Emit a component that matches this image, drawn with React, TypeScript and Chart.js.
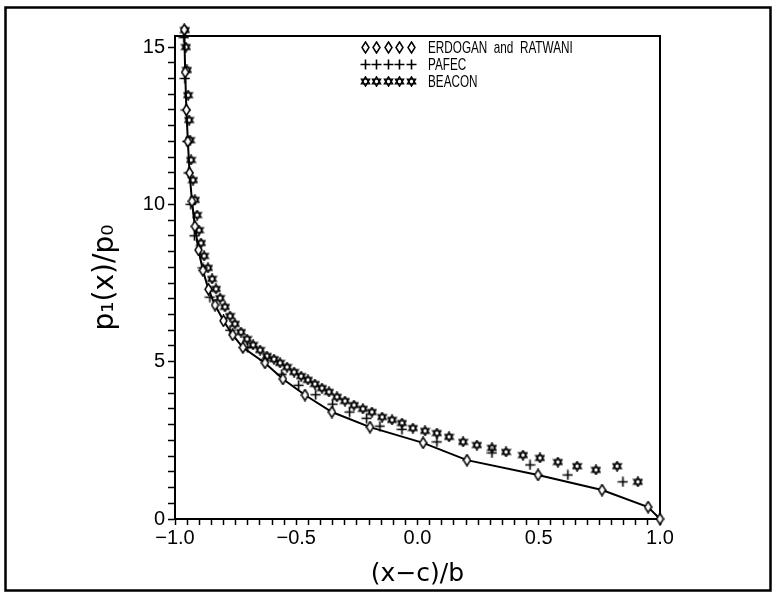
import React, { useEffect, useRef } from "react";
import { Chart, registerables } from "chart.js";

Chart.register(...registerables);

// ---- Data ----
const erdoganX = [-0.962, -0.958, -0.953, -0.947, -0.94, -0.93, -0.918, -0.903, -0.885, -0.862, -0.835, -0.80, -0.762, -0.72, -0.629, -0.555, -0.464, -0.353, -0.196, 0.023, 0.204, 0.497, 0.761, 0.951, 1.0];
const erdoganY = [15.55, 14.2, 13.0, 12.0, 11.0, 10.1, 9.3, 8.55, 7.9, 7.3, 6.8, 6.3, 5.85, 5.45, 4.96, 4.45, 3.94, 3.40, 2.92, 2.42, 1.87, 1.40, 0.92, 0.38, 0.0];

const pafecX = [-0.963, -0.959, -0.955, -0.95, -0.944, -0.935, -0.92, -0.885, -0.856, -0.773, -0.70, -0.63, -0.56, -0.49, -0.42, -0.35, -0.28, -0.21, -0.155, -0.064, 0.08, 0.307, 0.464, 0.62, 0.847];
const pafecY = [15.3, 14.0, 13.0, 12.0, 11.0, 10.0, 9.0, 7.98, 7.05, 6.0, 5.45, 5.05, 4.6, 4.25, 3.95, 3.65, 3.4, 3.2, 2.95, 2.85, 2.45, 2.1, 1.72, 1.40, 1.18];

const beaconX = [-0.959, -0.955, -0.951, -0.946, -0.942, -0.938, -0.934, -0.926, -0.918, -0.909, -0.901, -0.893, -0.88, -0.864, -0.847, -0.831, -0.814, -0.794, -0.773, -0.753, -0.728, -0.703, -0.678, -0.649, -0.621, -0.592, -0.567, -0.538, -0.509, -0.48, -0.452, -0.423, -0.394, -0.365, -0.332, -0.299, -0.262, -0.225, -0.188, -0.146, -0.105, -0.064, -0.019, 0.031, 0.08, 0.13, 0.188, 0.245, 0.307, 0.365, 0.435, 0.505, 0.579, 0.658, 0.736, 0.823, 0.909];
const beaconY = [15.54, 15.0, 14.27, 13.47, 12.68, 12.04, 11.41, 10.77, 10.14, 9.66, 9.18, 8.77, 8.36, 7.98, 7.63, 7.31, 7.02, 6.74, 6.45, 6.2, 5.94, 5.72, 5.53, 5.37, 5.18, 5.08, 4.96, 4.83, 4.67, 4.54, 4.42, 4.29, 4.16, 4.04, 3.88, 3.75, 3.62, 3.5, 3.4, 3.24, 3.15, 3.05, 2.89, 2.8, 2.73, 2.61, 2.45, 2.35, 2.26, 2.13, 2.03, 1.94, 1.81, 1.68, 1.56, 1.68, 1.18];

const xLabelValues = [-1, -0.5, 0, 0.5, 1];
const xTickLabels = ["\u22121.0", "\u22120.5", "0.0", "0.5", "1.0"];
const yLabelValues = [0, 5, 10, 15];
const yTickLabels = ["0", "5", "10", "15"];
const seriesNames = ["ERDOGAN  and  RATWANI", "PAFEC", "BEACON"];
const xTitle = "(x\u2212c)/b";
const yTitle = "p\u2081(x)/p\u2080";

const X_MIN = -1, X_MAX = 1, X_MINOR = 0.05;
const Y_MIN = 0, Y_MAX = 15.35, Y_MINOR = 0.5;

function minorTicks(min: number, max: number, step: number) {
  const out: number[] = [];
  const n = Math.round((max - min) / step);
  for (let i = 0; i <= n; i++) out.push(+(min + i * step).toFixed(6));
  return out;
}

function labelFor(v: number, vals: number[], labels: string[]) {
  const i = vals.findIndex((a) => Math.abs(a - v) < 1e-6);
  return i >= 0 ? labels[i] : "";
}

function makeDiamond() {
  const c = document.createElement("canvas");
  c.width = 9; c.height = 13;
  const g = c.getContext("2d")!;
  g.beginPath();
  g.moveTo(4.5, 1); g.lineTo(8, 6.5); g.lineTo(4.5, 12); g.lineTo(1, 6.5); g.closePath();
  g.fillStyle = "#fff"; g.fill();
  g.lineWidth = 1.5; g.strokeStyle = "#000"; g.stroke();
  return c;
}

function makeStar() {
  const c = document.createElement("canvas");
  c.width = 11; c.height = 11;
  const g = c.getContext("2d")!;
  const cx = 5.5, cy = 5.5, r = 4.7;
  g.lineWidth = 1.4; g.strokeStyle = "#000";
  for (let t = 0; t < 2; t++) {
    g.beginPath();
    for (let k = 0; k < 3; k++) {
      const a = -Math.PI / 2 + t * Math.PI + (k * 2 * Math.PI) / 3;
      const px = cx + r * Math.cos(a), py = cy + r * Math.sin(a);
      if (k === 0) g.moveTo(px, py); else g.lineTo(px, py);
    }
    g.closePath();
    g.stroke();
  }
  return c;
}

function makeCross() {
  const c = document.createElement("canvas");
  c.width = 11; c.height = 11;
  const g = c.getContext("2d")!;
  g.lineWidth = 1.6; g.strokeStyle = "#000";
  g.beginPath();
  g.moveTo(0.5, 5.5); g.lineTo(10.5, 5.5);
  g.moveTo(5.5, 0.5); g.lineTo(5.5, 10.5);
  g.stroke();
  return c;
}

const FONT = '"Liberation Sans", Arial, Helvetica, sans-serif';
const TITLE_FONT = '"DejaVu Sans", "Liberation Sans", sans-serif';

export default function App() {
  const ref = useRef<HTMLCanvasElement | null>(null);

  useEffect(() => {
    if (!ref.current) return;
    const diamond = makeDiamond();
    const star = makeStar();
    const cross = makeCross();
    const markers = [diamond, cross, star];

    const framePlugin = {
      id: "outerFrame",
      beforeDraw(chart: any) {
        const ctx = chart.ctx;
        ctx.save();
        ctx.fillStyle = "#fff";
        ctx.fillRect(0, 0, chart.width, chart.height);
        ctx.strokeStyle = "#000";
        ctx.lineWidth = 2.5;
        ctx.strokeRect(5.5, 7.5, 765, 583);
        ctx.restore();
      },
    };

    const legendPlugin = {
      id: "refLegend",
      afterDatasetsDraw(chart: any) {
        const ctx = chart.ctx;
        const a = chart.chartArea;
        const x0 = a.left + 190;
        const rows = [a.top + 11, a.top + 28, a.top + 45];
        ctx.save();
        rows.forEach((ry, r) => {
          const img = markers[r];
          for (let k = 0; k < 5; k++) {
            const cx = x0 + k * 11.5;
            ctx.drawImage(img, Math.round(cx - img.width / 2), Math.round(ry - img.height / 2));
          }
          ctx.fillStyle = "#000";
          ctx.font = "17px " + FONT;
          ctx.textBaseline = "middle";
          ctx.textAlign = "left";
          const tx = x0 + 63;
          ctx.save();
          ctx.translate(tx, ry + 1);
          ctx.scale(0.69, 1);
          ctx.fillText(seriesNames[r], 0, 0);
          ctx.restore();
        });
        ctx.restore();
      },
    };

    const xTicks = minorTicks(X_MIN, X_MAX, X_MINOR);
    const yTicks = minorTicks(Y_MIN, 15, Y_MINOR);

    const chart = new Chart(ref.current, {
      type: "scatter",
      data: {
        datasets: [
          {
            label: seriesNames[0],
            data: erdoganX.map((x, i) => ({ x, y: erdoganY[i] })),
            showLine: true,
            borderColor: "#000",
            borderWidth: 2,
            tension: 0,
            pointStyle: diamond,
            pointRadius: 5,
            clip: false,
          } as any,
          {
            label: seriesNames[1],
            data: pafecX.map((x, i) => ({ x, y: pafecY[i] })),
            showLine: false,
            pointStyle: cross,
            pointRadius: 5,
            clip: false,
          } as any,
          {
            label: seriesNames[2],
            data: beaconX.map((x, i) => ({ x, y: beaconY[i] })),
            showLine: false,
            pointStyle: star,
            pointRadius: 5,
            clip: false,
          } as any,
        ],
      },
      options: {
        responsive: false,
        animation: false,
        devicePixelRatio: 1,
        layout: { padding: 0 },
        plugins: { legend: { display: false }, tooltip: { enabled: false } },
        scales: {
          x: {
            type: "linear",
            position: "bottom",
            min: X_MIN,
            max: X_MAX,
            afterFit: (s: any) => { s.height = 83; },
            afterBuildTicks: (s: any) => { s.ticks = xTicks.map((v) => ({ value: v })); },
            grid: { display: true, drawOnChartArea: false, drawTicks: true, tickLength: 6, tickColor: "#000", tickWidth: 1.5, color: "#000" },
            border: { display: true, color: "#000", width: 2 },
            ticks: {
              autoSkip: false,
              maxRotation: 0,
              minRotation: 0,
              padding: 1,
              color: "#000",
              font: { family: FONT, size: 20 },
              callback: (v: any) => labelFor(Number(v), xLabelValues, xTickLabels),
            },
            title: {
              display: true,
              text: xTitle,
              color: "#000",
              font: { family: TITLE_FONT, size: 25 },
              padding: { top: 0, bottom: 13 },
            },
          },
          y: {
            type: "linear",
            position: "left",
            min: Y_MIN,
            max: Y_MAX,
            afterFit: (s: any) => { s.width = 175; },
            afterBuildTicks: (s: any) => { s.ticks = yTicks.map((v) => ({ value: v })); },
            grid: { display: true, drawOnChartArea: false, drawTicks: true, tickLength: 7, tickColor: "#000", tickWidth: 1.5, color: "#000" },
            border: { display: true, color: "#000", width: 2 },
            ticks: {
              autoSkip: false,
              padding: 3,
              color: "#000",
              font: { family: FONT, size: 20 },
              callback: (v: any) => labelFor(Number(v), yLabelValues, yTickLabels),
            },
            title: {
              display: true,
              text: yTitle,
              color: "#000",
              font: { family: TITLE_FONT, size: 28 },
              padding: { top: 89, bottom: 0 },
            },
          },
          xTop: {
            type: "linear",
            position: "top",
            min: X_MIN,
            max: X_MAX,
            afterFit: (s: any) => { s.height = 36; },
            grid: { display: true, drawOnChartArea: false, drawTicks: false },
            border: { display: true, color: "#000", width: 2 },
            ticks: { display: false },
          },
          yRight: {
            type: "linear",
            position: "right",
            min: Y_MIN,
            max: Y_MAX,
            afterFit: (s: any) => { s.width = 116; },
            grid: { display: true, drawOnChartArea: false, drawTicks: false },
            border: { display: true, color: "#000", width: 2 },
            ticks: { display: false },
          },
        },
      } as any,
      plugins: [framePlugin, legendPlugin],
    });
    return () => chart.destroy();
  }, []);

  return (
    <div style={{ position: "absolute", left: 0, top: 0, width: 776, height: 602 }}>
      <canvas ref={ref} width={776} height={602} style={{ display: "block", width: 776, height: 602 }} />
    </div>
  );
}
